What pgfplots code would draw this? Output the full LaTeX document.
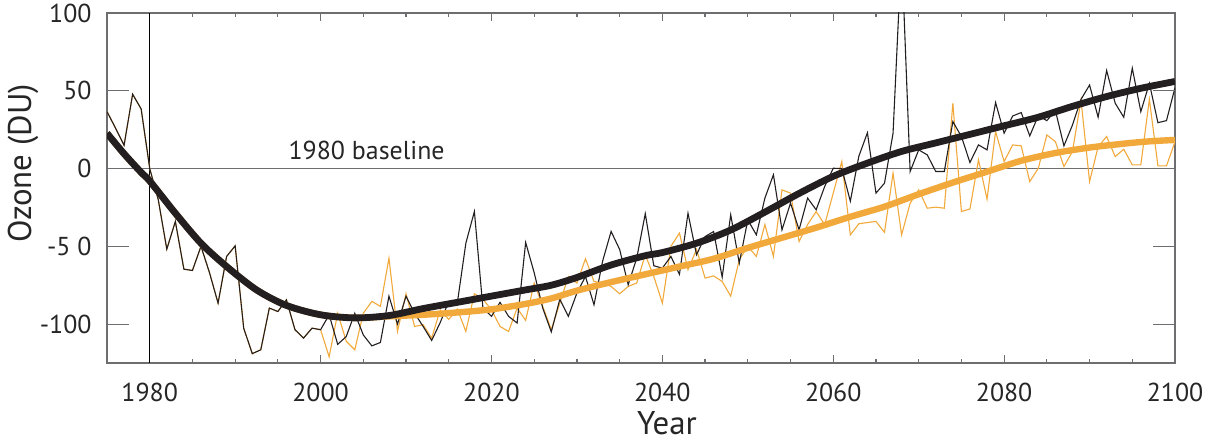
\documentclass[border=0pt]{standalone}
\usepackage{fontspec}
\setmainfont{PT Sans}
\usepackage{pgfplots}
\pgfplotsset{compat=1.18}
\definecolor{ozorange}{RGB}{242,169,59}
\definecolor{ozblack}{RGB}{35,31,32}
\definecolor{axgray}{RGB}{110,110,112}
\begin{document}
\begin{tikzpicture}
\useasboundingbox (-53.5bp,-41bp) rectangle (550bp,181.5bp);
\begin{axis}[
  at={(0,0)}, anchor=south west,
  width=534bp, height=175bp, scale only axis,
  xmin=1975, xmax=2100, ymin=-125, ymax=100,
  axis line style={axgray, line width=1bp},
  xtick={1980,2000,2020,2040,2060,2080,2100},
  xticklabels={1980,2000,2020,2040,2060,2080,2100},
  minor x tick num=3,
  ytick={-100,-50,0,50,100},
  yticklabels={-100,-5 0,0,50,100},
  tick style={axgray, line width=0.6bp},
  major tick length=4bp, minor tick length=2bp,
  ytick style={draw=none},
  ticklabel style={font=\fontsize{13}{15}\selectfont, text=black!85},
  xticklabel style={yshift=-6.7bp},
  yticklabel style={xshift=-4.2bp},
  xlabel={Year}, ylabel={Ozone (DU)},
  label style={font=\fontsize{16.5}{19}\selectfont, text=black!85},
  xlabel style={at={(axis description cs:0.5243,-0.172)}, anchor=center},
  ylabel style={at={(axis description cs:-0.0787,0.57)}, anchor=center},
]
% reference lines
\addplot[axgray, line width=0.7bp] coordinates {(1975,0) (2100,0)};
\addplot[black, line width=0.5bp] coordinates {(1980,-125) (1980,100)};
\node[anchor=base west, inner sep=0, yshift=4.35bp, font=\fontsize{13}{15}\selectfont, text=black!85] at (axis cs:1996.2,0) {1980 baseline};

% thin orange (annual)
\addplot[ozorange, line width=0.55bp] coordinates {
(1975,36.6)(1976,26)(1977,15)(1978,47.8)(1979,38.3)(1980,0)(1981,-20)(1982,-51.8)(1983,-34)(1984,-64.7)
(1985,-65.5)(1986,-50)(1987,-67)(1988,-86.5)(1989,-56.5)(1990,-49.7)(1991,-102.6)(1992,-119)(1993,-116.5)(1994,-89.7)
(1995,-91.9)(1996,-84.4)(1997,-103.6)(1998,-109)(1999,-102.6)(2000,-103.6)
(2001,-121)(2002,-93)(2003,-111)(2004,-116.5)(2005,-93)(2006,-85.4)(2007,-88.6)(2008,-57.6)(2009,-104.7)(2010,-80.5)
(2011,-101.5)(2012,-100.4)(2013,-109)(2014,-90.8)(2015,-97)(2016,-90.3)(2017,-104.7)(2018,-80.5)(2019,-84)(2020,-90.8)
(2021,-101.5)(2022,-104.7)(2023,-89.7)(2024,-97.6)(2025,-73.6)(2026,-88.6)(2027,-103.6)(2028,-86.5)(2029,-69.4)(2030,-73.6)
(2031,-58)(2032,-72.6)(2033,-73.6)(2034,-75.8)(2035,-80.5)(2036,-75.8)(2037,-73.6)(2038,-55.4)(2039,-69.4)(2040,-86.5)
(2041,-50)(2042,-41.5)(2043,-65)(2044,-52)(2045,-70.4)(2046,-69)(2047,-72.6)(2048,-82)(2049,-58.6)(2050,-50)
(2051,-56.5)(2052,-36)(2053,-56.5)(2054,-13.7)(2055,-15.8)(2056,-46.9)(2057,-36)(2058,-27.6)(2059,-36)(2060,-15.8)
(2061,4.5)(2062,-42.6)(2063,-35.5)(2064,-34.7)(2065,-34)(2066,-41)(2067,-3)(2068,-42.6)(2069,-22.3)(2070,-13.7)
(2071,-25.5)(2072,-24.8)(2073,-25.5)(2074,42)(2075,-27.6)(2076,-26)(2077,5.6)(2078,-19.7)(2079,23.8)(2080,4.5)
(2081,15.2)(2082,14.6)(2083,-8.4)(2084,0.2)(2085,21.6)(2086,17.3)(2087,1.3)(2088,11)(2089,44)(2090,-8.4)
(2091,14)(2092,20.6)(2093,7.7)(2094,12.4)(2095,2.4)(2096,2.4)(2097,44.5)(2098,1.7)(2099,1.7)(2100,17.3)
};

% thin black (annual)
\addplot[ozblack, line width=0.55bp] coordinates {
(1975,36.6)(1976,26)(1977,15)(1978,47.8)(1979,38.3)(1980,0)(1981,-20)(1982,-51.8)(1983,-34)(1984,-64.7)
(1985,-65.5)(1986,-50)(1987,-67)(1988,-86.5)(1989,-56.5)(1990,-49.7)(1991,-102.6)(1992,-119)(1993,-116.5)(1994,-89.7)
(1995,-91.9)(1996,-84.4)(1997,-103.6)(1998,-109)(1999,-102.6)(2000,-103.6)
(2001,-94)(2002,-113)(2003,-108)(2004,-93)(2005,-107)(2006,-114)(2007,-111.8)(2008,-82)(2009,-100)(2010,-82)
(2011,-93)(2012,-101.5)(2013,-110.5)(2014,-99)(2015,-85.4)(2016,-86.5)(2017,-48)(2018,-27.6)(2019,-89.7)(2020,-95)
(2021,-86)(2022,-95)(2023,-99.3)(2024,-47.5)(2025,-67)(2026,-89.7)(2027,-105)(2028,-84)(2029,-95)(2030,-80)
(2031,-69.4)(2032,-87.6)(2033,-59.7)(2034,-40.4)(2035,-52)(2036,-74.7)(2037,-57.6)(2038,-29)(2039,-62.5)(2040,-64)
(2041,-56.5)(2042,-68)(2043,-28.7)(2044,-55.4)(2045,-43.7)(2046,-40.5)(2047,-69.8)(2048,-29.7)(2049,-60.8)(2050,-33)
(2051,-42.6)(2052,-19)(2053,-4)(2054,-39.4)(2055,-22.2)(2056,-39.4)(2057,-19)(2058,-26.5)(2059,-11.5)(2060,0.2)
(2061,0)(2062,-21)(2063,8)(2064,23)(2065,-15.8)(2066,-9.4)(2067,22.7)(2068,140)(2069,-1.9)(2070,12)
(2071,8.8)(2072,-1.9)(2073,-1.9)(2074,30.2)(2075,20.6)(2076,3.9)(2077,15.2)(2078,12)(2079,42.4)(2080,22.7)
(2081,33.8)(2082,36)(2083,21)(2084,34)(2085,30.8)(2086,37.3)(2087,14.6)(2088,28)(2089,44.5)(2090,53.7)
(2091,33)(2092,63)(2093,42)(2094,33)(2095,64.5)(2096,36.6)(2097,54.8)(2098,29.5)(2099,30.8)(2100,52)
};

% smooth orange
\addplot[ozorange, line width=3.2bp, smooth] coordinates {
(1975,22.7)(1977,9.5)(1979,-2.5)(1980,-8)(1983,-28.7)(1986,-48)(1989,-63)(1992.5,-78)(1996,-88)(2000,-94)(2004,-96)
(2008,-95)(2012,-94)(2016,-92.5)(2020,-90.5)(2024,-87)(2027,-83.5)(2030,-78.5)(2034,-73)(2038,-68)(2042,-63)
(2046,-58)(2050,-51)(2054,-44.5)(2058,-38)(2062,-31)(2066,-24.5)(2070,-16.5)(2074,-9)(2078,-2)(2082,5)
(2086,10)(2090,13.5)(2094,16)(2097,17.5)(2100,18.4)
};

% smooth black
\addplot[ozblack, line width=3.4bp, smooth] coordinates {
(1975,22.7)(1977,9.5)(1979,-2.5)(1980,-8)(1983,-28.7)(1986,-48)(1989,-63)(1992.5,-78)(1996,-88)(2000,-94)(2004,-96)
(2008,-94.5)(2012,-90)(2016,-86)(2020,-82)(2024,-78)(2027,-75)(2030,-70)(2034,-62)(2038,-56)(2040,-54)
(2044,-48)(2048,-39.5)(2052,-28)(2056,-16)(2060,-5)(2064,3.5)(2068,11)(2072,16.5)(2076,22)(2080,27.5)
(2084,33)(2088,40)(2092,46.3)(2096,51.6)(2100,56)
};
\end{axis}
% second axis: long inward y ticks on both sides
\begin{axis}[
  at={(0,0)}, anchor=south west,
  width=534bp, height=175bp, scale only axis,
  xmin=1975, xmax=2100, ymin=-125, ymax=100,
  axis line style={draw=none},
  xtick=\empty,
  ytick={-100,-50,0,50,100},
  yticklabel={\relax},
  major tick length=11bp,
  tick style={axgray, line width=0.6bp},
]
\end{axis}
\end{tikzpicture}
\end{document}
